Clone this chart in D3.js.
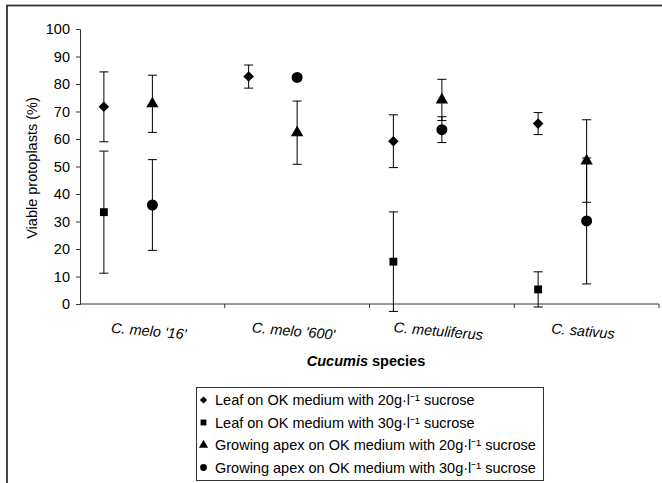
<!DOCTYPE html>
<html>
<head>
<meta charset="utf-8">
<script src="https://cdn.jsdelivr.net/npm/d3@7"></script>
<style>
  body { margin: 0; background: #fff; }
  text { font-family: "Liberation Sans", Arial, sans-serif; fill: #000; }
</style>
</head>
<body>
<div id="chart"></div>
<script>
// categories and values
const categories = ["C. melo '16'", "C. melo '600'", "C. metuliferus", "C. sativus"];
const yTicks = [0, 10, 20, 30, 40, 50, 60, 70, 80, 90, 100];

const leaf20 = [71.7, 82.7, 59.2, 65.6];
const leaf20Err = [12.7, 4.2, 9.6, 4.0];
const leaf30 = [33.4, null, 15.4, 5.3];
const leaf30Err = [22.2, null, 18.1, 6.4];
const apex20 = [72.8, 62.3, 74.2, 52.0];
const apex20Err = [10.4, 11.5, 7.5, 15.0];
const apex30 = [36.0, 82.4, 63.4, 30.2];
const apex30Err = [16.5, 0, 4.7, 22.9];

const seriesNames = [
  "Leaf on OK medium with 20g\u00b7l\u207b\u00b9 sucrose",
  "Leaf on OK medium with 30g\u00b7l\u207b\u00b9 sucrose",
  "Growing apex on OK medium with 20g\u00b7l\u207b\u00b9 sucrose",
  "Growing apex on OK medium with 30g\u00b7l\u207b\u00b9 sucrose"
];

const W = 662, H = 483;
const svg = d3.select("#chart").append("svg")
  .attr("width", W).attr("height", H);

// outer frame (only top and left edges fall inside the picture)
svg.append("rect")
  .attr("x", 7).attr("y", 5.5)
  .attr("width", 700).attr("height", 520)
  .attr("fill", "none").attr("stroke", "#333").attr("stroke-width", 1.8);

let x = d3.scaleBand().domain(categories).range([80, 659]).padding(0);
let y = d3.scaleLinear().domain([0, 100]).range([304, 29]);

// where in each category band the two groups sit
const offsets = [0.165, 0.165, 0.5, 0.5];
const symbols = [d3.symbolSquare, d3.symbolSquare, d3.symbolTriangle, d3.symbolCircle];
const rotations = [45, 0, 0, 0];
const sizes = [56, 62, 66, 95];
const legendSizes = [26, 34, 36, 36];

let series = [
  { values: leaf20, err: leaf20Err },
  { values: leaf30, err: leaf30Err },
  { values: apex20, err: apex20Err },
  { values: apex30, err: apex30Err }
];

// y axis
let yAxis = svg.append("g")
  .attr("transform", "translate(80,0)")
  .call(d3.axisLeft(y).tickValues(yTicks).tickSize(4).tickPadding(6));
yAxis.select(".domain").attr("stroke", "#333");
yAxis.selectAll(".tick line").attr("stroke", "#333");
yAxis.selectAll("text").style("font-size", "14.5px").attr("fill", "#000");

// x axis: line with ticks at category boundaries
let xAxis = svg.append("g");
xAxis.append("line")
  .attr("x1", x.range()[0]).attr("x2", x.range()[1])
  .attr("y1", y(0)).attr("y2", y(0))
  .attr("stroke", "#333");
let bounds = categories.map((c) => x(c)).concat([x.range()[1]]);
xAxis.selectAll(".xt")
  .data(bounds.slice(1))
  .enter()
  .append("line")
  .attr("x1", (d) => d).attr("x2", (d) => d)
  .attr("y1", y(0)).attr("y2", y(0) + 4)
  .attr("stroke", "#333");

// category labels, slightly slanted, italic
svg.selectAll(".clab")
  .data(categories)
  .enter()
  .append("text")
  .attr("transform", (d) => "translate(" + (x(d) + x.bandwidth() / 2 - 4) + ",336) rotate(5)")
  .attr("text-anchor", "middle")
  .style("font-size", "14.5px")
  .style("font-style", "italic")
  .text((d) => d);

// axis titles
svg.append("text")
  .attr("transform", "translate(37,168) rotate(-90)")
  .attr("text-anchor", "middle")
  .style("font-size", "14.5px")
  .text("Viable protoplasts (%)");

let xt = svg.append("text")
  .attr("x", 366).attr("y", 366)
  .attr("text-anchor", "middle")
  .style("font-size", "14.5px")
  .style("font-weight", "bold");
xt.append("tspan").style("font-style", "italic").text("Cucumis");
xt.append("tspan").text(" species");

// error bars and markers
series.forEach(function (s, si) {
  let g = svg.append("g");
  let pts = categories
    .map((c, i) => ({ c: c, v: s.values[i], e: s.err[i] }))
    .filter((d) => d.v !== null);
  let px = (d) => x(d.c) + x.bandwidth() * offsets[si];

  let eb = g.selectAll(".eb").data(pts.filter((d) => d.e > 0)).enter().append("g");
  eb.append("line")
    .attr("x1", px).attr("x2", px)
    .attr("y1", (d) => y(d.v - d.e)).attr("y2", (d) => y(d.v + d.e))
    .attr("stroke", "#000");
  [1, -1].forEach(function (sgn) {
    eb.append("line")
      .attr("x1", (d) => px(d) - 4.5).attr("x2", (d) => px(d) + 4.5)
      .attr("y1", (d) => y(d.v + sgn * d.e)).attr("y2", (d) => y(d.v + sgn * d.e))
      .attr("stroke", "#000");
  });

  g.selectAll(".m").data(pts).enter().append("path")
    .attr("d", d3.symbol().type(symbols[si]).size(sizes[si]))
    .attr("transform", (d) => "translate(" + px(d) + "," + y(d.v) + ") rotate(" + rotations[si] + ")")
    .attr("fill", "#000");
});

// legend
let legend = svg.append("g");
legend.append("rect")
  .attr("x", 196.5).attr("y", 387.5)
  .attr("width", 347).attr("height", 93)
  .attr("fill", "#fff").attr("stroke", "#333");
let ly = d3.scalePoint().domain(d3.range(4)).range([400, 467.5]);
let items = legend.selectAll(".li").data(seriesNames).enter().append("g")
  .attr("transform", (d, i) => "translate(0," + ly(i) + ")");
items.append("path")
  .attr("d", (d, i) => d3.symbol().type(symbols[i]).size(legendSizes[i])())
  .attr("transform", (d, i) => "translate(203.5,0) rotate(" + rotations[i] + ")")
  .attr("fill", "#000");
items.append("text")
  .attr("x", 215).attr("y", 5)
  .style("font-size", "14.5px")
  .text((d) => d);
</script>
</body>
</html>
